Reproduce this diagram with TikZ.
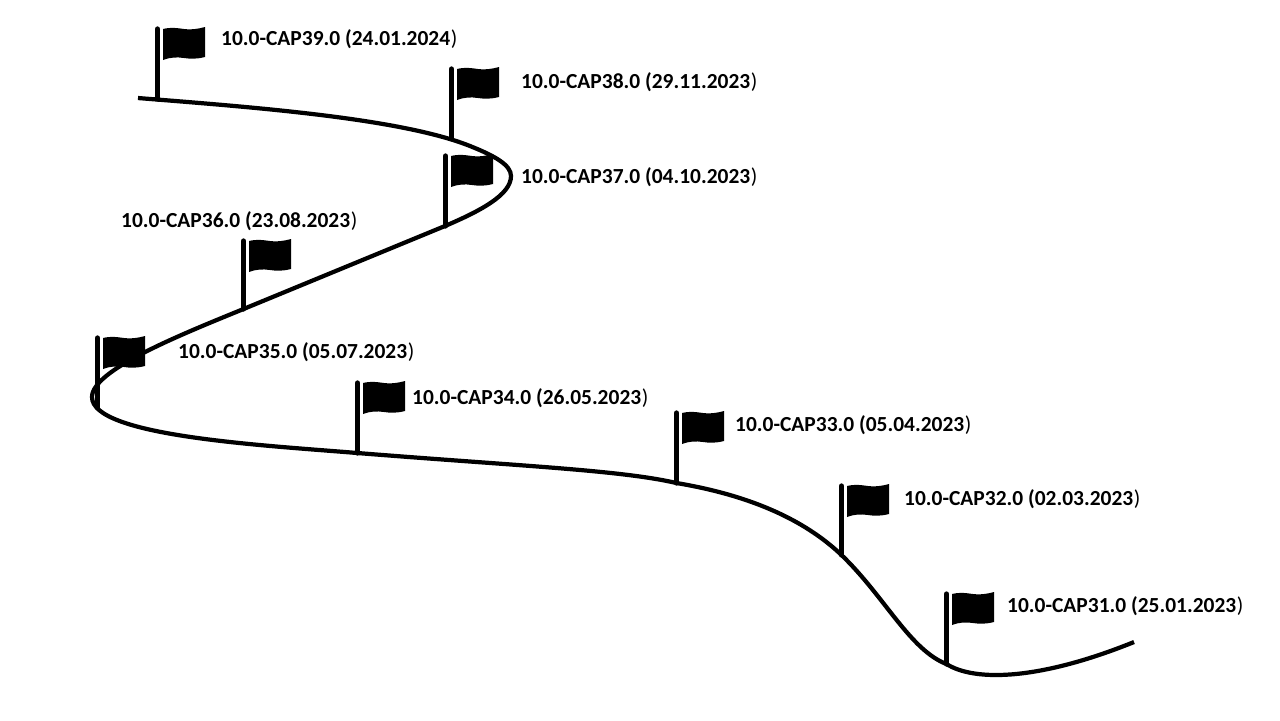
\documentclass[tikz,border=0pt]{standalone}
\usepackage{fontspec}
\setmainfont{Carlito}
\newcommand{\rel}[2]{\fontsize{6.1pt}{7pt}\selectfont\textbf{10.0-CAP#1 (#2}\kern.2pt)}
\tikzset{
pole/.style={line width=1.5pt,line cap=round},
track/.style={line width=1.2pt},
rel/.style={inner sep=0pt,anchor=west},
pics/flg/.style={code={\fill (5.5,0) .. controls (13.5,-2) and (19.5,-1) .. (26.5,0) .. controls (32.5,1) and (40.5,0) .. (47.5,-2) -- (47.5,28) .. controls (40.5,30) and (32.5,30) .. (26.5,29) .. controls (19.5,28) and (13.5,28) .. (5.5,31) -- cycle;}}
}
\begin{document}
\begin{tikzpicture}[x=.01cm,y=-.01cm]
\useasboundingbox (0,0) rectangle (1280,720);
\coordinate (s) at (138,98);
\coordinate (b39) at (157.5,99);
\coordinate (t39) at (157.5,29);
\coordinate (b38) at (451.5,138);
\coordinate (t38) at (451.5,69);
\coordinate (b37) at (445.5,226);
\coordinate (t37) at (445.5,156);
\coordinate (b36) at (243.5,309);
\coordinate (t36) at (243.5,241);
\coordinate (b35) at (97.5,408);
\coordinate (t35) at (97.5,338);
\coordinate (b34) at (357.5,453);
\coordinate (t34) at (357.5,383);
\coordinate (b33) at (676.5,483);
\coordinate (t33) at (676.5,413);
\coordinate (b32) at (841.5,555);
\coordinate (t32) at (841.5,486);
\coordinate (b31) at (946.5,664);
\coordinate (t31) at (946.5,594);
\coordinate (e) at (1134,642);
% the track
\draw[track] (s) .. controls (250,107) and (400,118) .. (470,146) .. controls (495,156) and (511,165) .. (511,176) .. controls (511,195) and (480,211) .. (445,226) -- (b36) .. controls (180,335) and (92,370) .. (92,397) .. controls (92,436) and (260,445) .. (b34) .. controls (520,466) and (620,470) .. (b33) .. controls (760,497) and (810,525) .. (b32) .. controls (885,597) and (910,650) .. (b31) .. controls (975,682) and (1040,680) .. (e);
% poles and flags
\draw[pole] (t39) -- (b39);
\draw[pole] (t38) -- (b38);
\draw[pole] (t37) -- (b37);
\draw[pole] (t36) -- (b36);
\draw[pole] (t35) -- (b35);
\draw[pole] (t34) -- (b34);
\draw[pole] (t33) -- (b33);
\draw[pole] (t32) -- (b32);
\draw[pole] (t31) -- (b31);
\pic at (t39) {flg};
\pic at (t38) {flg};
\pic at (t37) {flg};
\pic at (t36) {flg};
\pic at (t35) {flg};
\pic at (t34) {flg};
\pic at (t33) {flg};
\pic at (t32) {flg};
\pic at (t31) {flg};
% labels
\node[rel] (l39) at (220.5,39) {\rel{39.0}{24.01.2024}};
\node[rel] (l38) at (520.5,82) {\rel{38.0}{29.11.2023}};
\node[rel] (l37) at (520.5,177) {\rel{37.0}{04.10.2023}};
\node[rel] (l36) at (120.5,221) {\rel{36.0}{23.08.2023}};
\node[rel] (l35) at (177.5,352) {\rel{35.0}{05.07.2023}};
\node[rel] (l34) at (411.5,398) {\rel{34.0}{26.05.2023}};
\node[rel] (l33) at (734.5,425) {\rel{33.0}{05.04.2023}};
\node[rel] (l32) at (903.5,499) {\rel{32.0}{02.03.2023}};
\node[rel] (l31) at (1006.5,606) {\rel{31.0}{25.01.2023}};
\end{tikzpicture}
\end{document}
